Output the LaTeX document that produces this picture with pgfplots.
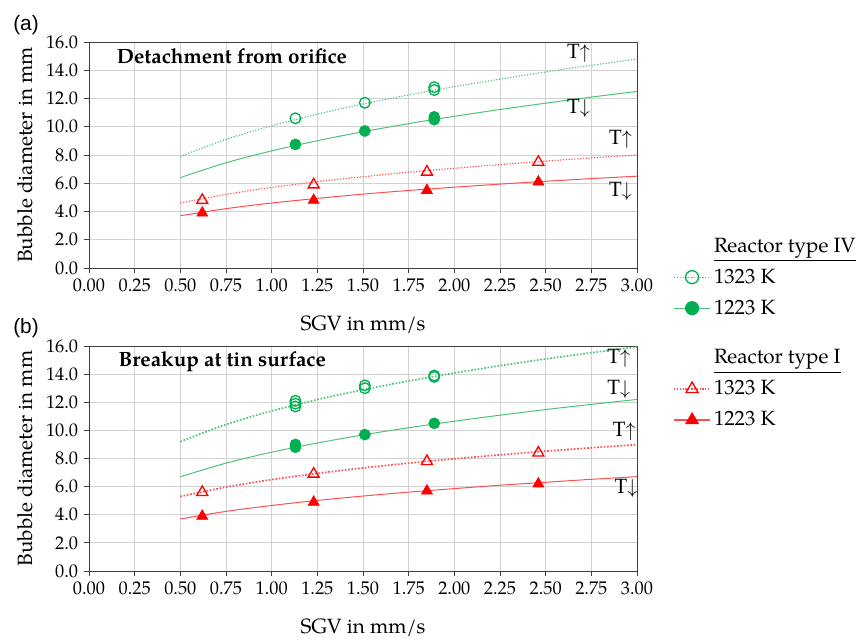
\documentclass[border=0pt]{standalone}
\usepackage{fontspec}
\setmainfont{TeX Gyre Pagella}
\newfontfamily\panelfont{Liberation Sans}
\usepackage{pgfplots}
\pgfplotsset{compat=1.18}

\definecolor{mkgreen}{HTML}{00B050}
\definecolor{lngreen}{HTML}{4FC27C}
\definecolor{mkred}{HTML}{FF0000}
\definecolor{lnred}{HTML}{FF5050}
\definecolor{framegray}{HTML}{404040}
\definecolor{gridgray}{HTML}{D2D2D2}

\newcommand{\labfont}{\fontsize{12.4}{14}\selectfont}
\newcommand{\tickfont}{\fontsize{11}{12}\selectfont}

\pgfplotsset{
  panel/.style={
    scale only axis, width=328.8pt, height=135.6pt,
    xmin=0, xmax=3, ymin=0, ymax=16,
    xtick={0,0.25,0.5,0.75,1,1.25,1.5,1.75,2,2.25,2.5,2.75,3},
    ytick={0,2,4,6,8,10,12,14,16},
    xtick pos=bottom, ytick pos=left,
    grid=major, major grid style={gridgray, line width=0.6pt},
    axis line style={framegray, line width=0.6pt},
    tick style={framegray, line width=0.6pt},
    tick align=outside, major tick length=3pt,
    xticklabel style={/pgf/number format/.cd, fixed, fixed zerofill, precision=2},
    yticklabel style={/pgf/number format/.cd, fixed, fixed zerofill, precision=1},
    /pgf/number format/assume math mode=true,
    tick label style={font=\tickfont},
    xlabel={SGV in mm/s}, ylabel={Bubble diameter in mm},
    xlabel style={font=\labfont, at={([yshift=-34.2pt]axis description cs:0.5,0)}, anchor=center},
    ylabel style={font=\labfont, at={([xshift=-38.4pt]axis description cs:0,0.5)}, anchor=center},
    legend style={draw=none, fill=none, font=\labfont, anchor=north west,
      inner sep=0pt, row sep=4.5pt, cells={anchor=west},
      /tikz/every even column/.append style={column sep=2.5pt}},
    legend image code/.code={\draw[mark repeat=2,mark phase=2,#1]
      plot coordinates {(0pt,0pt) (10.8pt,0pt) (21.6pt,0pt)};},
  },
  fitdot/.style={densely dotted, line width=0.7pt, smooth, forget plot},
  fitsolid/.style={solid, line width=0.6pt, smooth, forget plot},
  opencirc/.style={only marks, mark=o, mark size=3.2pt, mkgreen, mark options={line width=0.8pt}, forget plot},
  fullcirc/.style={only marks, mark=*, mark size=3.3pt, mkgreen, forget plot},
  opentri/.style={only marks, mark=triangle, mark size=3.8pt, mkred, mark options={line width=0.8pt}, forget plot},
  fulltri/.style={only marks, mark=triangle*, mark size=3.8pt, mkred, forget plot},
}

\begin{document}
\begin{tikzpicture}
\useasboundingbox (0,0) rectangle (516.6pt,-382.8pt);

% ---------------- (a) detachment from orifice ----------------
\begin{axis}[panel, at={(53.4pt,-160.8pt)}, anchor=south west,
  legend style={at={(1.066,0.15)}}]
  % power-law trend lines
  \addplot[lngreen, fitdot] coordinates {
    (0.5,7.90) (0.75,9.11) (1.0,10.07) (1.25,10.89) (1.5,11.61) (1.75,12.25)
    (2.0,12.84) (2.25,13.37) (2.5,13.88) (2.75,14.35) (3.0,14.79)};
  \addplot[lngreen, fitsolid] coordinates {
    (0.5,6.40) (0.75,7.45) (1.0,8.29) (1.25,9.01) (1.5,9.65) (1.75,10.22)
    (2.0,10.74) (2.25,11.22) (2.5,11.67) (2.75,12.10) (3.0,12.50)};
  \addplot[lnred, fitdot] coordinates {
    (0.5,4.60) (0.75,5.21) (1.0,5.70) (1.25,6.11) (1.5,6.46) (1.75,6.78)
    (2.0,7.06) (2.25,7.32) (2.5,7.57) (2.75,7.79) (3.0,8.00)};
  \addplot[lnred, fitsolid] coordinates {
    (0.5,3.70) (0.75,4.20) (1.0,4.60) (1.25,4.93) (1.5,5.23) (1.75,5.49)
    (2.0,5.72) (2.25,5.94) (2.5,6.14) (2.75,6.33) (3.0,6.50)};
  % measurements
  \addplot[opencirc] coordinates {(1.13,10.6) (1.51,11.7) (1.89,12.8) (1.89,12.6)};
  \addplot[fullcirc] coordinates {(1.13,8.75) (1.51,9.7) (1.89,10.7) (1.89,10.5)};
  \addplot[opentri] coordinates {(0.62,4.8) (1.23,5.9) (1.85,6.8) (2.46,7.5)};
  \addplot[fulltri] coordinates {(0.62,3.9) (1.23,4.8) (1.85,5.5) (2.46,6.1)};
  % legend for reactor type IV
  \addlegendimage{empty legend}
  \addlegendentry{\underline{Reactor type IV}}
  \addlegendimage{lngreen, densely dotted, line width=0.7pt, mark=o, mark size=3.9pt,
    mark options={mkgreen, solid, line width=0.8pt}}
  \addlegendentry{1323 K}
  \addlegendimage{lngreen, solid, line width=0.7pt, mark=*, mark size=3.9pt,
    mark options={mkgreen}}
  \addlegendentry{1223 K}
  \node[anchor=west, font=\bfseries\labfont] at (axis cs:0.12,15.0) {Detachment from orifice};
  \node[font=\labfont] at (axis cs:2.68,15.2) {T$\uparrow$};
  \node[font=\labfont] at (axis cs:2.68,11.3) {T$\downarrow$};
  \node[font=\labfont] at (axis cs:2.91,9.1) {T$\uparrow$};
  \node[font=\labfont] at (axis cs:2.91,5.4) {T$\downarrow$};
\end{axis}

% ---------------- (b) breakup at tin surface ----------------
\begin{axis}[panel, at={(53.4pt,-342.6pt)}, anchor=south west, height=135pt,
  legend style={at={(1.066,1.0)}}]
  \addplot[lngreen, fitdot, line width=1pt] coordinates {
    (0.5,9.20) (0.75,10.42) (1.0,11.38) (1.25,12.19) (1.5,12.89) (1.75,13.51)
    (2.0,14.08) (2.25,14.60) (2.5,15.08) (2.75,15.52) (3.0,15.94)};
  \addplot[lngreen, fitsolid] coordinates {
    (0.5,6.70) (0.75,7.67) (1.0,8.45) (1.25,9.10) (1.5,9.68) (1.75,10.19)
    (2.0,10.65) (2.25,11.08) (2.5,11.48) (2.75,11.85) (3.0,12.20)};
  \addplot[lnred, fitdot, line width=1pt] coordinates {
    (0.5,5.30) (0.75,5.97) (1.0,6.50) (1.25,6.94) (1.5,7.33) (1.75,7.67)
    (2.0,7.98) (2.25,8.26) (2.5,8.52) (2.75,8.76) (3.0,8.99)};
  \addplot[lnred, fitsolid] coordinates {
    (0.5,3.70) (0.75,4.24) (1.0,4.66) (1.25,5.02) (1.5,5.33) (1.75,5.61)
    (2.0,5.86) (2.25,6.10) (2.5,6.31) (2.75,6.52) (3.0,6.71)};
  \addplot[opencirc] coordinates {(1.13,12.1) (1.13,11.9) (1.13,11.7) (1.51,13.2) (1.51,13.0) (1.89,13.9) (1.89,13.8)};
  \addplot[fullcirc] coordinates {(1.13,9.0) (1.13,8.8) (1.51,9.7) (1.89,10.5)};
  \addplot[opentri] coordinates {(0.62,5.6) (1.23,6.9) (1.85,7.8) (2.46,8.4)};
  \addplot[fulltri] coordinates {(0.62,3.9) (1.23,4.9) (1.85,5.7) (2.46,6.2)};
  % legend for reactor type I
  \addlegendimage{empty legend}
  \addlegendentry{\underline{Reactor type I}}
  \addlegendimage{lnred, densely dotted, line width=0.7pt, mark=triangle, mark size=4.2pt,
    mark options={mkred, solid, line width=0.8pt}}
  \addlegendentry{1323 K}
  \addlegendimage{lnred, solid, line width=0.7pt, mark=triangle*, mark size=4.2pt,
    mark options={mkred}}
  \addlegendentry{1223 K}
  \node[anchor=west, font=\bfseries\labfont] at (axis cs:0.13,14.9) {Breakup at tin surface};
  \node[font=\labfont] at (axis cs:2.90,15.1) {T$\uparrow$};
  \node[font=\labfont] at (axis cs:2.90,12.9) {T$\downarrow$};
  \node[font=\labfont] at (axis cs:2.93,9.9) {T$\uparrow$};
  \node[font=\labfont] at (axis cs:2.94,5.9) {T$\downarrow$};
\end{axis}

\node[font=\panelfont\fontsize{12.5}{14}\selectfont] at (15.6pt,-15pt) {(a)};
\node[font=\panelfont\fontsize{12.5}{14}\selectfont] at (15.6pt,-197pt) {(b)};
\end{tikzpicture}
\end{document}
